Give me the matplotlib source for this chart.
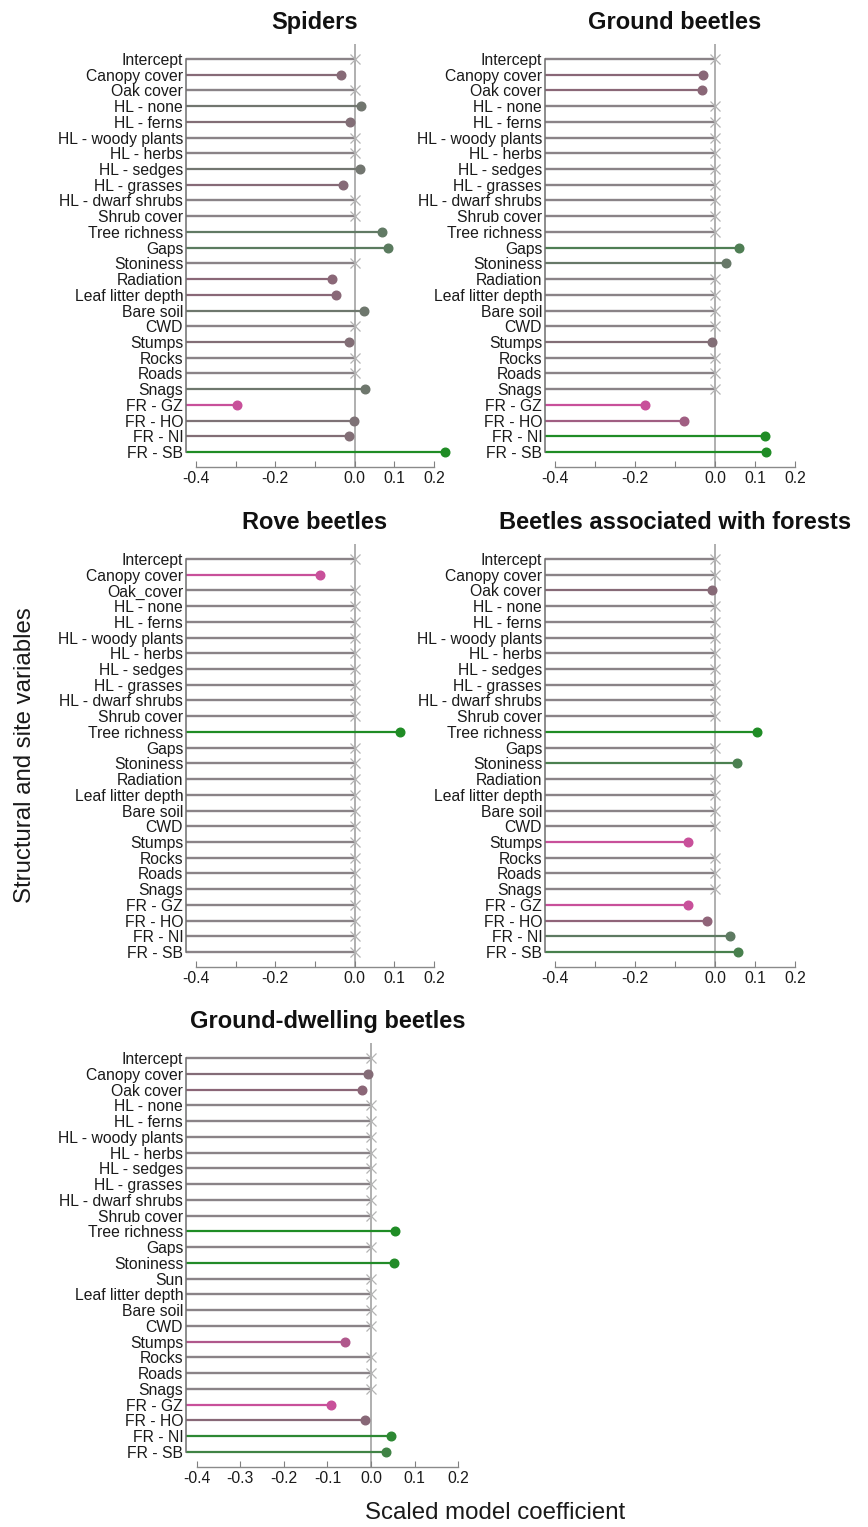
import numpy as np
import matplotlib
matplotlib.use("Agg")
import matplotlib.pyplot as plt
from matplotlib.colors import LinearSegmentedColormap

# --- 1. data (None = not selected / not significant, drawn as x at 0) ---
variables = ['Intercept', 'Canopy cover', 'Oak cover', 'HL - none', 'HL - ferns',
             'HL - woody plants', 'HL - herbs', 'HL - sedges', 'HL - grasses',
             'HL - dwarf shrubs', 'Shrub cover', 'Tree richness', 'Gaps', 'Stoniness',
             'Radiation', 'Leaf litter depth', 'Bare soil', 'CWD', 'Stumps', 'Rocks',
             'Roads', 'Snags', 'FR - GZ', 'FR - HO', 'FR - NI', 'FR - SB']
variables_rove = [v if v != 'Oak cover' else 'Oak_cover' for v in variables]
variables_ground = [v if v != 'Radiation' else 'Sun' for v in variables]

spiders = [None, -0.034, None, 0.016, -0.012, None, None, 0.013, -0.029, None, None,
           0.069, 0.084, None, -0.058, -0.047, 0.024, None, -0.014, None, None, 0.025,
           -0.296, -0.002, -0.014, 0.227]
ground_beetles = [None, -0.031, -0.033, None, None, None, None, None, None, None, None,
                  None, 0.061, 0.027, None, None, None, None, -0.007, None, None, None,
                  -0.176, -0.077, 0.124, 0.127]
rove_beetles = [None, -0.087, None, None, None, None, None, None, None, None, None,
                0.114, None, None, None, None, None, None, None, None, None, None,
                None, None, None, None]
forest_beetles = [None, None, -0.008, None, None, None, None, None, None, None, None,
                  0.106, None, 0.055, None, None, None, None, -0.068, None, None, None,
                  -0.068, -0.019, 0.037, 0.058]
ground_dwelling = [None, -0.007, -0.021, None, None, None, None, None, None, None, None,
                   0.054, None, 0.052, None, None, None, None, -0.060, None, None, None,
                   -0.093, -0.014, 0.045, 0.034]

titles = ['Spiders', 'Ground beetles', 'Rove beetles',
          'Beetles associated with forests', 'Ground-dwelling beetles']

x_ticks = [-0.4, -0.3, -0.2, -0.1, 0.0, 0.1, 0.2]

# --- 2. style ---
plt.rcParams['font.family'] = ['Liberation Sans', 'DejaVu Sans']
plt.rcParams['axes.unicode_minus'] = False

W, H = 868, 1527
fig = plt.figure(figsize=(W / 100, H / 100), dpi=100)

cmap = LinearSegmentedColormap.from_list(
    'pinkgreen', ['#c8509a', '#8c6577', '#7b7476', '#5f7a63', '#1f8c25'])
NS_COLOR = '#8a8387'
XLIM = (-0.425, 0.225)


def px_axes(left, right, top, bottom):
    return fig.add_axes([left / W, 1 - bottom / H, (right - left) / W, (bottom - top) / H])


def coef_color(v, vals):
    sig = [x for x in vals if x is not None]
    if v < 0:
        t = np.sqrt(v / min(sig))
        return cmap(0.5 - 0.5 * t)
    t = (v / max(sig)) ** 0.65
    return cmap(0.5 + 0.5 * t)


def draw_panel(ax, labels, vals, title, all_labels=False):
    n = len(labels)
    y = np.arange(n)
    ax.set_xlim(*XLIM)
    ax.set_ylim(n - 1 + 0.954, -0.954)
    ax.axvline(0, color='#9a9a9a', lw=1.1, zorder=1)
    x0 = XLIM[0]
    for i, v in enumerate(vals):
        if v is None:
            ax.hlines(y[i], x0, 0, color=NS_COLOR, lw=1.7, zorder=2)
            ax.plot(0, y[i], marker='x', ms=7.5, mew=0.9, color='#b4b4b4', zorder=3)
        else:
            c = coef_color(v, vals)
            ax.hlines(y[i], x0, v, color=c, lw=1.6, zorder=2, clip_on=False)
            ax.plot(v, y[i], 'o', ms=6.2, color=c, zorder=4, clip_on=False)

    ax.set_yticks(y)
    ax.set_yticklabels(labels, fontsize=11.3, color='#1a1a1a')
    ax.tick_params(axis='y', length=0, pad=2)

    ax.set_xticks(x_ticks)
    if all_labels:
        ax.set_xticklabels([f'{t:.1f}' for t in x_ticks])
    else:
        ax.set_xticklabels(['' if t in (-0.3, -0.1) else f'{t:.1f}' for t in x_ticks])
    ax.tick_params(axis='x', direction='in', length=4, width=0.8, color='#808080',
                   pad=3, labelsize=11.3, labelcolor='#1a1a1a')

    for s in ['top', 'right']:
        ax.spines[s].set_visible(False)
    ax.spines['left'].set_bounds(0, n - 1)
    ax.spines['left'].set_color('#6e6e6e')
    ax.spines['left'].set_linewidth(1.1)
    ax.spines['bottom'].set_bounds(-0.4, 0.2)
    ax.spines['bottom'].set_color('#8a8a8a')
    ax.spines['bottom'].set_linewidth(1.0)
    ax.patch.set_visible(False)

    ax.set_title(title, fontsize=17, fontweight='bold', pad=11, color='#111111')


# --- 3. panels ---
ax1 = px_axes(186, 444, 44, 467)
draw_panel(ax1, variables, spiders, titles[0])
ax2 = px_axes(545, 805, 44, 467)
draw_panel(ax2, variables, ground_beetles, titles[1])
ax3 = px_axes(186, 444, 544, 967)
draw_panel(ax3, variables_rove, rove_beetles, titles[2])
ax4 = px_axes(545, 805, 544, 967)
draw_panel(ax4, variables, forest_beetles, titles[3])
ax5 = px_axes(186, 469, 1043, 1467)
draw_panel(ax5, variables_ground, ground_dwelling, titles[4], all_labels=True)

fig.text(25 / W, 1 - 755 / H, 'Structural and site variables', rotation=90,
         fontsize=17.3, ha='center', va='center', color='#1a1a1a')
fig.text(495 / W, 1 - 1513 / H, 'Scaled model coefficient',
         fontsize=17.3, ha='center', va='center', color='#1a1a1a')

fig.savefig('out.png', dpi=100)
